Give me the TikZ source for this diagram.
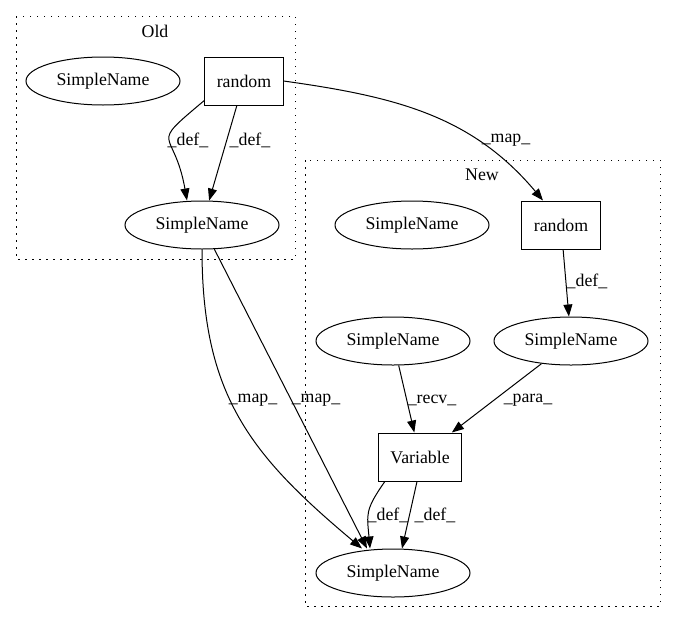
\documentclass[tikz,border=0pt]{standalone}
\usepackage{fontspec}
\setmainfont{Liberation Serif}
\usetikzlibrary{shapes.geometric,arrows.meta}

\begin{document}
\begin{tikzpicture}[x=1pt, y=1pt, line width=1pt,
    font=\fontsize{17.8}{20}\selectfont,
    sn/.style={ellipse, draw=black, minimum width=154pt, minimum height=48pt, inner sep=0pt},
    op/.style={rectangle, draw=black, minimum height=48pt, inner xsep=12pt},
    edge/.style={-{Triangle[length=12pt,width=9pt]}},
    lbl/.style={inner sep=0pt},
    grp/.style={dash pattern=on 1.5pt off 5.5pt}]
    \useasboundingbox (0,0) rectangle (676,-624);

    % Old
    \draw[grp] (16,-16) rectangle (295,-259);
    \node (oldlbl) at (155,-31) {Old};
    \node[sn] (o_sn1) at (103,-81) {SimpleName};
    \node[op] (o_rnd) at (244,-81) {random};
    \node[sn] (o_sn2) at (202,-225) {SimpleName};

    % New
    \draw[grp] (305,-160) rectangle (660,-606);
    \node (newlbl) at (482,-175) {New};
    \node[sn] (n_sn1) at (412,-225) {SimpleName};
    \node[op] (n_rnd) at (561,-225) {random};
    \node[sn] (n_sn2) at (571,-341) {SimpleName};
    \node[sn] (n_sn3) at (393,-341) {SimpleName};
    \node[op] (n_var) at (420,-457) {Variable};
    \node[sn] (n_sn4) at (393,-573) {SimpleName};

    % edges
    \draw[edge] ([yshift=5pt]o_rnd.south west) to[out=220, in=100, looseness=1.9] ([xshift=-15pt]o_sn2.north);
    \draw[edge] (o_rnd) -- (o_sn2);
    \draw[edge] (o_rnd.east) to[out=-8, in=130] ([xshift=-18pt]n_rnd.north);

    \draw[edge] (n_rnd) -- (n_sn2);
    \draw[edge] (n_sn3) -- (n_var);
    \draw[edge] (n_sn2) -- (n_var);
    \draw[edge] ([xshift=7pt]n_var.south west) to[out=235, in=95, looseness=1.3] ([xshift=-23pt]n_sn4.north);
    \draw[edge] ([xshift=-3pt]n_var.south) -- ([xshift=9pt]n_sn4.north);

    \draw[edge] (o_sn2.south) to[out=-90, in=140, looseness=1.1] ([xshift=-31pt]n_sn4.north);
    \draw[edge] (o_sn2) -- ([xshift=-26pt]n_sn4.north);

    % edge labels
    \node[lbl] (l_def1) at (188,-140) {\_def\_};
    \node[lbl] (l_def2) at (250,-140) {\_def\_};
    \node[lbl] (l_map1) at (506,-140) {\_map\_};
    \node[lbl] (l_def3) at (587,-281) {\_def\_};
    \node[lbl] (l_recv) at (432,-400) {\_recv\_};
    \node[lbl] (l_para) at (528,-400) {\_para\_};
    \node[lbl] (l_def4) at (388,-515) {\_def\_};
    \node[lbl] (l_def5) at (435,-515) {\_def\_};
    \node[lbl] (l_map2) at (253,-400) {\_map\_};
    \node[lbl] (l_map3) at (316,-400) {\_map\_};
\end{tikzpicture}
\end{document}
